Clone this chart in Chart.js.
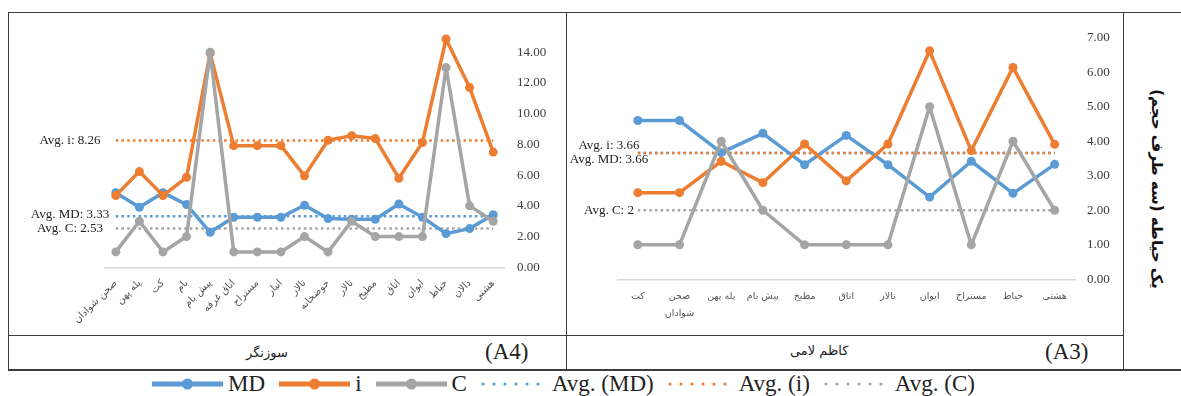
<!DOCTYPE html>
<html>
<head>
<meta charset="utf-8">
<script src="https://cdn.jsdelivr.net/npm/chart.js@4.4.0/dist/chart.umd.min.js"></script>
<style>
  body { margin: 0; background: #fff; width: 1181px; height: 396px; position: relative; overflow: hidden; font-family: 'Liberation Serif', serif; }
  canvas { position: absolute; }
  .hline { position: absolute; height: 0; border-top: 1.5px solid #3c3c3c; }
  .vline { position: absolute; width: 0; border-left: 1.5px solid #3c3c3c; }
  .cap { position: absolute; white-space: nowrap; color: #222; }
  .fa { font-family: 'DejaVu Sans', sans-serif; font-size: 13px; }
  .tag { font-size: 23px; }
  #side { position: absolute; left: 1157px; top: 189px; transform: translate(-50%, -50%) rotate(90deg); white-space: nowrap;
          font-family: 'DejaVu Sans', sans-serif; font-weight: bold; font-size: 15px; color: #111; }
  #legend { position: absolute; left: 0; width: 1127px; top: 371px; height: 25px; display: flex; justify-content: center; align-items: center; }
  #legend .item { display: flex; align-items: center; margin: 0 7px; }
  #legend span { font-family: 'Liberation Serif', serif; font-size: 23px; color: #222; margin-left: 5px; line-height: 25px; }
</style>
</head>
<body>
<div class="hline" style="left:8px; width:1173px; top:12px;"></div>
<div class="hline" style="left:8px; width:1115px; top:335px;"></div>
<div class="hline" style="left:8px; width:1173px; top:369px; border-top-width:2px;"></div>
<div class="vline" style="left:8px; top:12px; height:358px;"></div>
<div class="vline" style="left:566px; top:12px; height:358px;"></div>
<div class="vline" style="left:1123px; top:12px; height:358px;"></div>

<canvas id="a4" width="558" height="323" style="left:8px; top:12px;"></canvas>
<canvas id="a3" width="557" height="323" style="left:566px; top:12px;"></canvas>

<div class="cap fa" style="left:246px; top:345px;">سوزنگر</div>
<div class="cap tag" style="left:485px; top:339px;">(A4)</div>
<div class="cap fa" style="left:790px; top:343px;">کاظم لامی</div>
<div class="cap tag" style="left:1045px; top:339px;">(A3)</div>
<div id="side">یک حیاطه (سه طرف حجم)</div>
<div id="legend"></div>

<script>
const seriesNames = ['MD', 'i', 'C'];
const seriesColors = ['#5B9BD5', '#ED7D31', '#A5A5A5'];

// (A4) سوزنگر
const a4Labels = ['صحن شوادان', 'پله پهن', 'کت', 'بام', 'پیش بام', 'اتاق غرفه', 'مستراح', 'انبار', 'تالار',
  'حوضخانه', 'تالار', 'مطبخ', 'اتاق', 'ایوان', 'حیاط', 'دالان', 'هشتی'];
const a4MD = [4.86, 3.91, 4.86, 4.08, 2.28, 3.26, 3.26, 3.26, 4.04, 3.17, 3.13, 3.13, 4.12, 3.26, 2.19, 2.52, 3.42];
const a4I = [4.67, 6.23, 4.67, 5.86, 13.94, 7.92, 7.92, 7.92, 5.95, 8.27, 8.57, 8.38, 5.80, 8.12, 14.86, 11.70, 7.50];
const a4C = [1, 3, 1, 2, 14, 1, 1, 1, 2, 1, 3, 2, 2, 2, 13, 4, 3];
const a4Avg = [3.33, 8.26, 2.53];

// (A3) کاظم لامی
const a3Labels = ['کت', ['صحن', 'شوادان'], 'پله پهن', 'پیش بام', 'مطبخ', 'اتاق', 'تالار', 'ایوان', 'مستراح', 'حیاط', 'هشتی'];
const a3MD = [4.60, 4.60, 3.67, 4.23, 3.32, 4.17, 3.32, 2.38, 3.42, 2.49, 3.33];
const a3I = [2.51, 2.51, 3.42, 2.80, 3.92, 2.85, 3.92, 6.62, 3.73, 6.14, 3.91];
const a3C = [1, 1, 4, 2, 1, 1, 1, 5, 1, 4, 2];
const a3Avg = [3.66, 3.66, 2];

const avgLabels = {
  id: 'avgLabels',
  afterDatasetsDraw(chart, args, opts) {
    const ctx = chart.ctx;
    const y = chart.scales.y;
    ctx.save();
    ctx.font = '13px "Liberation Serif"';
    ctx.fillStyle = '#222';
    ctx.textAlign = 'center';
    ctx.textBaseline = 'middle';
    opts.order.forEach(k => {
      const text = 'Avg. ' + seriesNames[k] + ': ' + opts.values[k];
      ctx.fillText(text, chart.chartArea.left + opts.dx, y.getPixelForValue(opts.values[k]) + opts.dy[k]);
    });
    ctx.restore();
  }
};

function makeChart(id, labels, series, avgs, cfg) {
  const lines = series.map((data, k) => ({
    label: seriesNames[k],
    data: data,
    borderColor: seriesColors[k],
    backgroundColor: seriesColors[k],
    borderWidth: 3.5,
    borderJoinStyle: 'round',
    borderCapStyle: 'round',
    pointRadius: 4.5,
    pointHoverRadius: 4.5,
    pointBorderWidth: 0,
    tension: 0,
    order: 3 - k
  }));
  const trends = avgs.map((v, k) => ({
    label: 'Avg. (' + seriesNames[k] + ')',
    data: labels.map(() => v),
    borderColor: seriesColors[k],
    borderWidth: 2.5,
    borderDash: [2.5, 3.2],
    pointRadius: 0,
    pointHoverRadius: 0,
    tension: 0,
    order: [6, 5, 7][k]
  }));

  return new Chart(document.getElementById(id), {
    type: 'line',
    data: { labels: labels, datasets: lines.concat(trends) },
    options: {
      responsive: false,
      animation: false,
      devicePixelRatio: 1,
      layout: { padding: { left: cfg.padLeft, top: cfg.padTop, right: 0, bottom: 0 } },
      plugins: {
        legend: { display: false },
        tooltip: { enabled: false },
        avgLabels: { values: avgs, dx: cfg.labelDx, dy: cfg.labelDy, order: [1, 0, 2] }
      },
      scales: {
        x: {
          offset: true,
          grid: { display: false, drawTicks: false },
          border: { display: false },
          ticks: {
            autoSkip: false,
            minRotation: cfg.rotation,
            maxRotation: cfg.rotation,
            padding: cfg.xPad,
            color: '#555',
            font: { family: 'DejaVu Sans', size: cfg.xFont, lineHeight: 1.8 }
          },
          afterFit: s => { s.height = cfg.xHeight; }
        },
        y: {
          position: 'right',
          min: 0,
          max: cfg.max,
          grid: {
            drawTicks: false,
            lineWidth: 1.5,
            color: c => (c.tick && c.tick.value === 0 ? '#d9d9d9' : 'rgba(0,0,0,0)')
          },
          border: { display: false },
          ticks: {
            stepSize: cfg.step,
            padding: cfg.yPad,
            color: '#3c3c3c',
            font: { family: 'Liberation Serif', size: 13 },
            callback: v => (v > cfg.lastTick ? '' : v.toFixed(2))
          },
          afterFit: s => { s.width = cfg.yWidth; s.paddingTop = 0; }
        }
      }
    },
    plugins: [avgLabels]
  });
}

makeChart('a4', a4Labels, [a4MD, a4I, a4C], a4Avg, {
  padLeft: 96, padTop: 9.5, xHeight: 67.7, yWidth: 61, yPad: 12,
  max: 16, step: 2, lastTick: 14, rotation: 45, xPad: 8, xFont: 10,
  labelDx: -34, labelDy: [-2, 0, 0]
});

makeChart('a3', a3Labels, [a3MD, a3I, a3C], a3Avg, {
  padLeft: 51, padTop: 25.7, xHeight: 55.7, yWidth: 47.5, yPad: 11.5,
  max: 7, step: 1, lastTick: 7, rotation: 0, xPad: 8.7, xFont: 9.5,
  labelDx: -8, labelDy: [7, -7, 0]
});

// legend
const legend = document.getElementById('legend');
const svgNS = 'http://www.w3.org/2000/svg';
function legendItem(name, color, dotted) {
  const item = document.createElement('div');
  item.className = 'item';
  const svg = document.createElementNS(svgNS, 'svg');
  const w = dotted ? 66 : 71;
  svg.setAttribute('width', w);
  svg.setAttribute('height', 14);
  const line = document.createElementNS(svgNS, 'line');
  line.setAttribute('x1', dotted ? 2 : 0);
  line.setAttribute('x2', w);
  line.setAttribute('y1', 7);
  line.setAttribute('y2', 7);
  line.setAttribute('stroke', color);
  if (dotted) {
    line.setAttribute('stroke-width', 3.2);
    line.setAttribute('stroke-linecap', 'round');
    line.setAttribute('stroke-dasharray', '0 11');
  } else {
    line.setAttribute('stroke-width', 5);
  }
  svg.appendChild(line);
  if (!dotted) {
    const dot = document.createElementNS(svgNS, 'circle');
    dot.setAttribute('cx', w / 2);
    dot.setAttribute('cy', 7);
    dot.setAttribute('r', 5.5);
    dot.setAttribute('fill', color);
    svg.appendChild(dot);
  }
  const label = document.createElement('span');
  label.textContent = name;
  item.appendChild(svg);
  item.appendChild(label);
  legend.appendChild(item);
}
seriesNames.forEach((n, k) => legendItem(n, seriesColors[k], false));
seriesNames.forEach((n, k) => legendItem('Avg. (' + n + ')', seriesColors[k], true));
</script>
</body>
</html>
